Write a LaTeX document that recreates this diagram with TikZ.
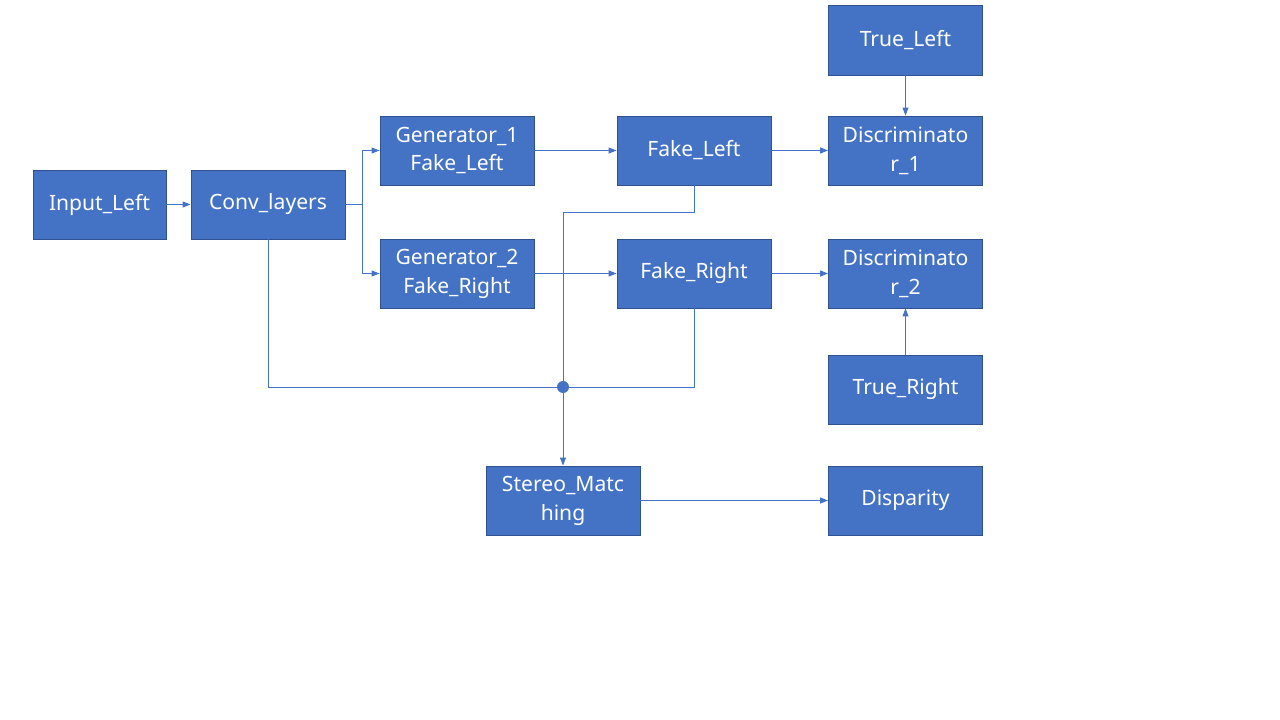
\documentclass[tikz,border=0pt]{standalone}
\usepackage{fontspec}
\setmainfont{Noto Sans}
\usepackage{xcolor}
\usepackage{tikz}
\usetikzlibrary{arrows.meta}
\usetikzlibrary{positioning}
\definecolor{boxblue}{HTML}{4472C4}
\definecolor{boxedge}{HTML}{2F528F}
\tikzset{
  myarrow/.style={
    draw=boxblue,
    line width=0.7pt,
    -{Triangle[length=0.2cm,width=0.15cm]},
  },
  myline/.style={
    draw=boxblue,
    line width=0.7pt,
  },
  mysquare/.style={
    draw=boxedge,
    fill=boxblue,
    shape=rectangle,
    line width=0.6pt,
    align=center,
    inner sep=0pt,
    text=white,
    minimum width=3.85cm,
    minimum height=1.725cm,
    font=\fontsize{15}{20.5}\selectfont
  },
  mydot/.style={
    fill=boxblue,
    shape=circle,
    inner sep=0pt,
    minimum size=0.3cm,
  }
}

\begin{document}
\begin{tikzpicture}[x=0.025cm, y=-0.025cm]
    \useasboundingbox (0,0) rectangle (1280,720);

    \node [mysquare, minimum width=3.325cm] (InputLeft) at (99.5, 204.5) {Input\_Left};
    \node [mysquare] (Conv) at (268, 204.5) {Conv\_layers};
    \node [mysquare] (GenA) at (457, 150.5) {Generator\_1\\Fake\_Left};
    \node [mysquare] (GenB) at (457, 273.5) {Generator\_2\\Fake\_Right};
    \node [mysquare] (FakeLeft) at (694, 150.5) {Fake\_Left};
    \node [mysquare] (FakeRight) at (694, 273.5) {Fake\_Right};
    \node [mysquare, minimum height=1.75cm] (TrueLeft) at (905.5, 40) {True\_Left};
    \node [mysquare] (DiscA) at (905.5, 150.5) {Discriminato\\r\_1};
    \node [mysquare] (DiscB) at (905.5, 273.5) {Discriminato\\r\_2};
    \node [mysquare] (TrueRight) at (905.5, 389.5) {True\_Right};
    \node [mysquare] (Stereo) at (563, 500.5) {Stereo\_Matc\\hing};
    \node [mysquare] (Disparity) at (905.5, 500.5) {Disparity};

    \draw [myarrow] (InputLeft) -- (Conv);
    \coordinate (Split) at (362, 204.5);
    \draw [myline] (Conv.east) -- (Split);
    \draw [myarrow] (Split) |- (GenA.west);
    \draw [myarrow] (Split) |- (GenB.west);

    \draw [myarrow] (GenA) -- (FakeLeft);
    \draw [myarrow] (GenB) -- (FakeRight);
    \draw [myarrow] (FakeLeft) -- (DiscA);
    \draw [myarrow] (FakeRight) -- (DiscB);
    \draw [myarrow] (TrueLeft) -- (DiscA);
    \draw [myarrow] (TrueRight) -- (DiscB);

    \node [mydot] (Join) at (563, 387) {};
    \coordinate (Turn) at (563, 212);
    \draw [myline] (FakeLeft.south) |- (Turn) -- (Join);
    \draw [myline] (Conv.south) |- (Join);
    \draw [myline] (FakeRight.south) |- (Join);
    \draw [myarrow] (Join) -- (Stereo);
    \draw [myarrow] (Stereo) -- (Disparity);

  \end{tikzpicture}
\end{document}
